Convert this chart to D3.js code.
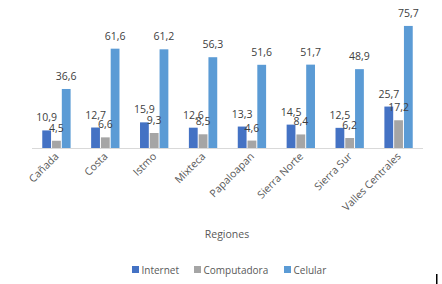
<!DOCTYPE html>
<html><head><meta charset="utf-8">
<script src="https://cdn.jsdelivr.net/npm/d3@7"></script>
<style>body{margin:0;background:#fff;} svg{display:block;}</style>
</head><body>
<script>
const regions = ["Cañada","Costa","Istmo","Mixteca","Papaloapan","Sierra Norte","Sierra Sur","Valles Centrales"];
const seriesNames = ["Internet","Computadora","Celular"];
const internet = [10.9,12.7,15.9,12.6,13.3,14.5,12.5,25.7];
const computadora = [4.5,6.6,9.3,8.5,4.6,8.4,6.2,17.2];
const celular = [36.6,61.6,61.2,56.3,51.6,51.7,48.9,75.7];
const colors = ["#4472C4","#A5A5A5","#5B9BD5"];
const axisTitle = "Regiones";

const W=442,H=284;
const svg=d3.select("body").append("svg").attr("width",W).attr("height",H);
const font="'Open Sans', 'Liberation Sans', sans-serif";
const values=[internet,computadora,celular];

const x0=d3.scaleBand().domain(regions).range([32,423]).paddingInner(0.38).paddingOuter(0.19);
const x1=d3.scaleBand().domain(seriesNames).range([0,x0.bandwidth()]).padding(0.1);
const y=d3.scaleLinear().domain([0,80]).range([148,19]);

// baseline
svg.append("line").attr("x1",32).attr("x2",423).attr("y1",148.5).attr("y2",148.5).attr("stroke","#d9d9d9");

const g=svg.append("g");
seriesNames.forEach((s,si)=>{
  regions.forEach((r,ri)=>{
    const v=values[si][ri];
    const bx=x0(r)+x1(s);
    g.append("rect").attr("x",bx).attr("y",y(v)).attr("width",x1.bandwidth()).attr("height",y(0)-y(v)).attr("fill",colors[si]);
  });
});
seriesNames.forEach((s,si)=>{
  regions.forEach((r,ri)=>{
    const v=values[si][ri];
    const bx=x0(r)+x1(s);
    g.append("text").attr("x",bx+x1.bandwidth()/2).attr("y",y(v)-9).attr("text-anchor","middle")
      .attr("font-family",font).attr("font-size","10.5px").attr("fill","#404040").text(String(v).replace(".",","));
  });
});

// x labels
regions.forEach(r=>{
  const cx=x0(r)+x0.bandwidth()/2;
  svg.append("text").attr("transform",`translate(${cx+3},${157}) rotate(-45)`).attr("text-anchor","end")
    .attr("font-family",font).attr("font-size","10.5px").attr("fill","#595959").text(r);
});

svg.append("text").attr("x",227).attr("y",238).attr("text-anchor","middle").attr("font-family",font)
  .attr("font-size","10.5px").attr("fill","#595959").text(axisTitle);

// legend
const legX=[132,194,284];
seriesNames.forEach((s,i)=>{
  svg.append("rect").attr("x",legX[i]).attr("y",266).attr("width",7).attr("height",7).attr("fill",colors[i]);
  svg.append("text").attr("x",legX[i]+9.5).attr("y",273.5).attr("font-family",font).attr("font-size","10px").attr("fill","#595959").text(s);
});

svg.append("rect").attr("x",436).attr("y",274).attr("width",1.5).attr("height",10).attr("fill","#000");
</script>
</body></html>
